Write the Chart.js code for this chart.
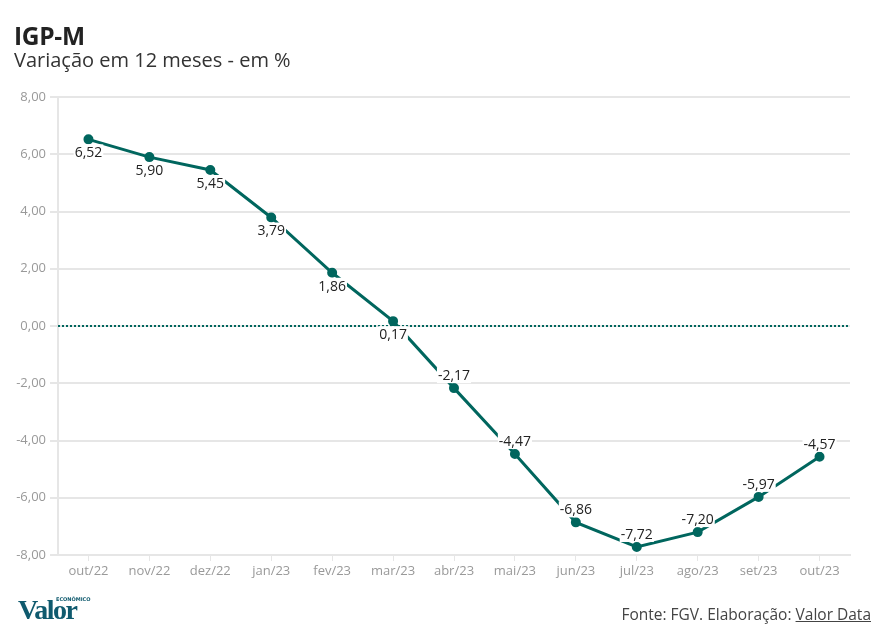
<!DOCTYPE html>
<html>
<head>
<meta charset="utf-8">
<script src="https://cdn.jsdelivr.net/npm/chart.js@4.4.0/dist/chart.umd.min.js"></script>
<style>
  html, body { margin:0; padding:0; background:#fff; }
  body { width:892px; height:636px; position:relative; overflow:hidden; font-family:"Open Sans", sans-serif; }
  #title { position:absolute; left:14px; top:19px; font-size:24.5px; font-weight:700; color:#222; letter-spacing:-0.3px; }
  #subtitle { position:absolute; left:14px; top:46px; font-size:20px; color:#333; }
  #wrap { position:absolute; left:0; top:0; width:892px; height:636px; }
  #logo { position:absolute; left:18px; top:594px; font-family:"Liberation Serif", "DejaVu Serif", serif; font-weight:700; font-size:28px; color:#0f5a6e; letter-spacing:-1.5px; }
  #logo small { position:absolute; left:38px; top:2px; font-size:5px; letter-spacing:0; color:#0f5a6e; font-family:"DejaVu Sans", sans-serif; }
  #footer { position:absolute; right:21px; top:603px; font-size:15.5px; color:#444; }
  #footer u { text-decoration:underline; }
</style>
</head>
<body>
<div id="wrap"><canvas id="c" width="892" height="636"></canvas></div>
<div id="title">IGP-M</div>
<div id="subtitle">Variação em 12 meses - em %</div>
<div id="logo">Valor<small>ECONÔMICO</small></div>
<div id="footer">Fonte: FGV. Elaboração: <u>Valor Data</u></div>
<script>
const categories = ["out/22","nov/22","dez/22","jan/23","fev/23","mar/23","abr/23","mai/23","jun/23","jul/23","ago/23","set/23","out/23"];
const igpm = [6.52, 5.90, 5.45, 3.79, 1.86, 0.17, -2.17, -4.47, -6.86, -7.72, -7.20, -5.97, -4.57];
const yTicks = [8, 6, 4, 2, 0, -2, -4, -6, -8];

const fmt = v => v.toFixed(2).replace('.', ',');
const teal = '#00665e';

const zeroLine = {
  id: 'zeroLine',
  beforeDatasetsDraw(chart) {
    const {ctx, chartArea, scales} = chart;
    const y = scales.y.getPixelForValue(0);
    ctx.save();
    ctx.strokeStyle = teal;
    ctx.lineWidth = 2;
    ctx.setLineDash([2, 2]);
    ctx.beginPath();
    ctx.moveTo(chartArea.left, y);
    ctx.lineTo(chartArea.right, y);
    ctx.stroke();
    ctx.restore();
  }
};

const labels = {
  id: 'labels',
  afterDatasetsDraw(chart) {
    const {ctx} = chart;
    const meta = chart.getDatasetMeta(0);
    ctx.save();
    ctx.font = '14px "Open Sans", sans-serif';
    ctx.textAlign = 'center';
    ctx.textBaseline = 'middle';
    meta.data.forEach((pt, i) => {
      const v = igpm[i];
      const txt = fmt(v);
      const y = v >= 0 ? pt.y + 13 : pt.y - 13;
      const w = ctx.measureText(txt).width;
      ctx.fillStyle = '#fff';
      ctx.fillRect(pt.x - w/2 - 1, y - 8, w + 2, 16);
      ctx.fillStyle = '#222';
      ctx.fillText(txt, pt.x, y + 1);
    });
    ctx.restore();
  }
};

new Chart(document.getElementById('c'), {
  type: 'line',
  data: {
    labels: categories,
    datasets: [{
      data: igpm,
      borderColor: teal,
      backgroundColor: teal,
      borderWidth: 3,
      pointRadius: 3.5,
      pointBackgroundColor: teal,
      pointBorderColor: teal,
      tension: 0
    }]
  },
  options: {
    responsive: false,
    animation: false,
    devicePixelRatio: 1,
    layout: { padding: { top: 97, right: 42, left: 0, bottom: 0 } },
    plugins: { legend: { display: false }, tooltip: { enabled: false } },
    scales: {
      x: {
        offset: true,
        grid: { display: true, drawOnChartArea: false, offset: false, color: '#e6e6e6', tickLength: 6, lineWidth: 1 },
        border: { display: true, color: '#e6e6e6', width: 2 },
        ticks: { color: '#999', font: { family: '"Open Sans", sans-serif', size: 13 }, padding: 2, maxRotation: 0, autoSkip: false },
        afterFit(s) { s.height = 81; }
      },
      y: {
        min: -8, max: 8,
        afterBuildTicks(s) { s.ticks = yTicks.map(v => ({ value: v })); },
        grid: { color: '#e6e6e6', lineWidth: 2, tickLength: 8 },
        border: { display: true, color: '#e6e6e6', width: 2 },
        ticks: { color: '#999', font: { family: '"Open Sans", sans-serif', size: 13 }, padding: 4, callback: v => fmt(v) },
        afterFit(s) { s.width = 58; }
      }
    }
  },
  plugins: [zeroLine, labels]
});
</script>
</body>
</html>
